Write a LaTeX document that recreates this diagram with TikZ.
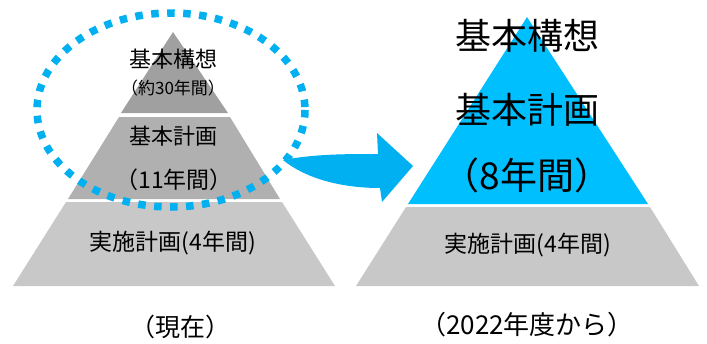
\documentclass[tikz,border=0pt]{standalone}
\usepackage{fontspec}
\setmainfont{Noto Sans CJK JP}
\definecolor{gA}{HTML}{A0A0A0}
\definecolor{gB}{HTML}{B0B0B0}
\definecolor{gC}{HTML}{C8C8C8}
\definecolor{skyP}{HTML}{00BFFF}
\definecolor{skyA}{HTML}{00B0F0}
\tikzset{
  lbl/.style={inner sep=0pt, text=black},
  fs/.style={font=\fontsize{#1}{#1}\selectfont}
}
\begin{document}
\begin{tikzpicture}[x=1pt,y=-1pt]
\useasboundingbox (0,0) rectangle (707,343);
% left pyramid
\fill[gA] (173,32) -- (228,113) -- (121,113) -- cycle;
\fill[gB] (119,117) -- (230,117) -- (280,199) -- (68,199) -- cycle;
\fill[gC] (66,202) -- (282,202) -- (335,286) -- (13,286) -- cycle;
% right pyramid
\fill[skyP] (527,17) -- (648,204) -- (408,204) -- cycle;
\fill[gC] (406,207) -- (650,207) -- (699,286) -- (356,286) -- cycle;
% arrow
\fill[skyA] (283,160) .. controls (315,154) and (345,154) .. (378,154)
  -- (377,133) -- (413,166) -- (382,202) -- (380,188)
  .. controls (340,188) and (305,178) .. (283,160) -- cycle;
% dotted ellipse
\draw[skyA, line width=7.5pt, dash pattern=on 7.5pt off 8.5pt] (171,110) ellipse [x radius=134, y radius=97];
% texts left
\node[lbl, fs=22] (l1) at (173,59) {基本構想};
\node[lbl, fs=17] (l2) at (173,88) {（約30年間）};
\node[lbl, fs=22] (l3) at (173,136) {基本計画};
\node[lbl, fs=23] (l4) at (174,180) {（11年間）};
\node[lbl, fs=23] (l5) at (173,243) {実施計画(4年間)};
\node[lbl, fs=25] (l6) at (180,327) {（現在）};
% texts right
\node[lbl, fs=36] (r1) at (527,36) {基本構想};
\node[lbl, fs=36] (r2) at (527,110) {基本計画};
\node[lbl, fs=37] (r3) at (527,175) {（8年間）};
\node[lbl, fs=23] (r4) at (528,245) {実施計画(4年間)};
\node[lbl, fs=26] (r5) at (527,325) {（2022年度から）};
\end{tikzpicture}
\end{document}
